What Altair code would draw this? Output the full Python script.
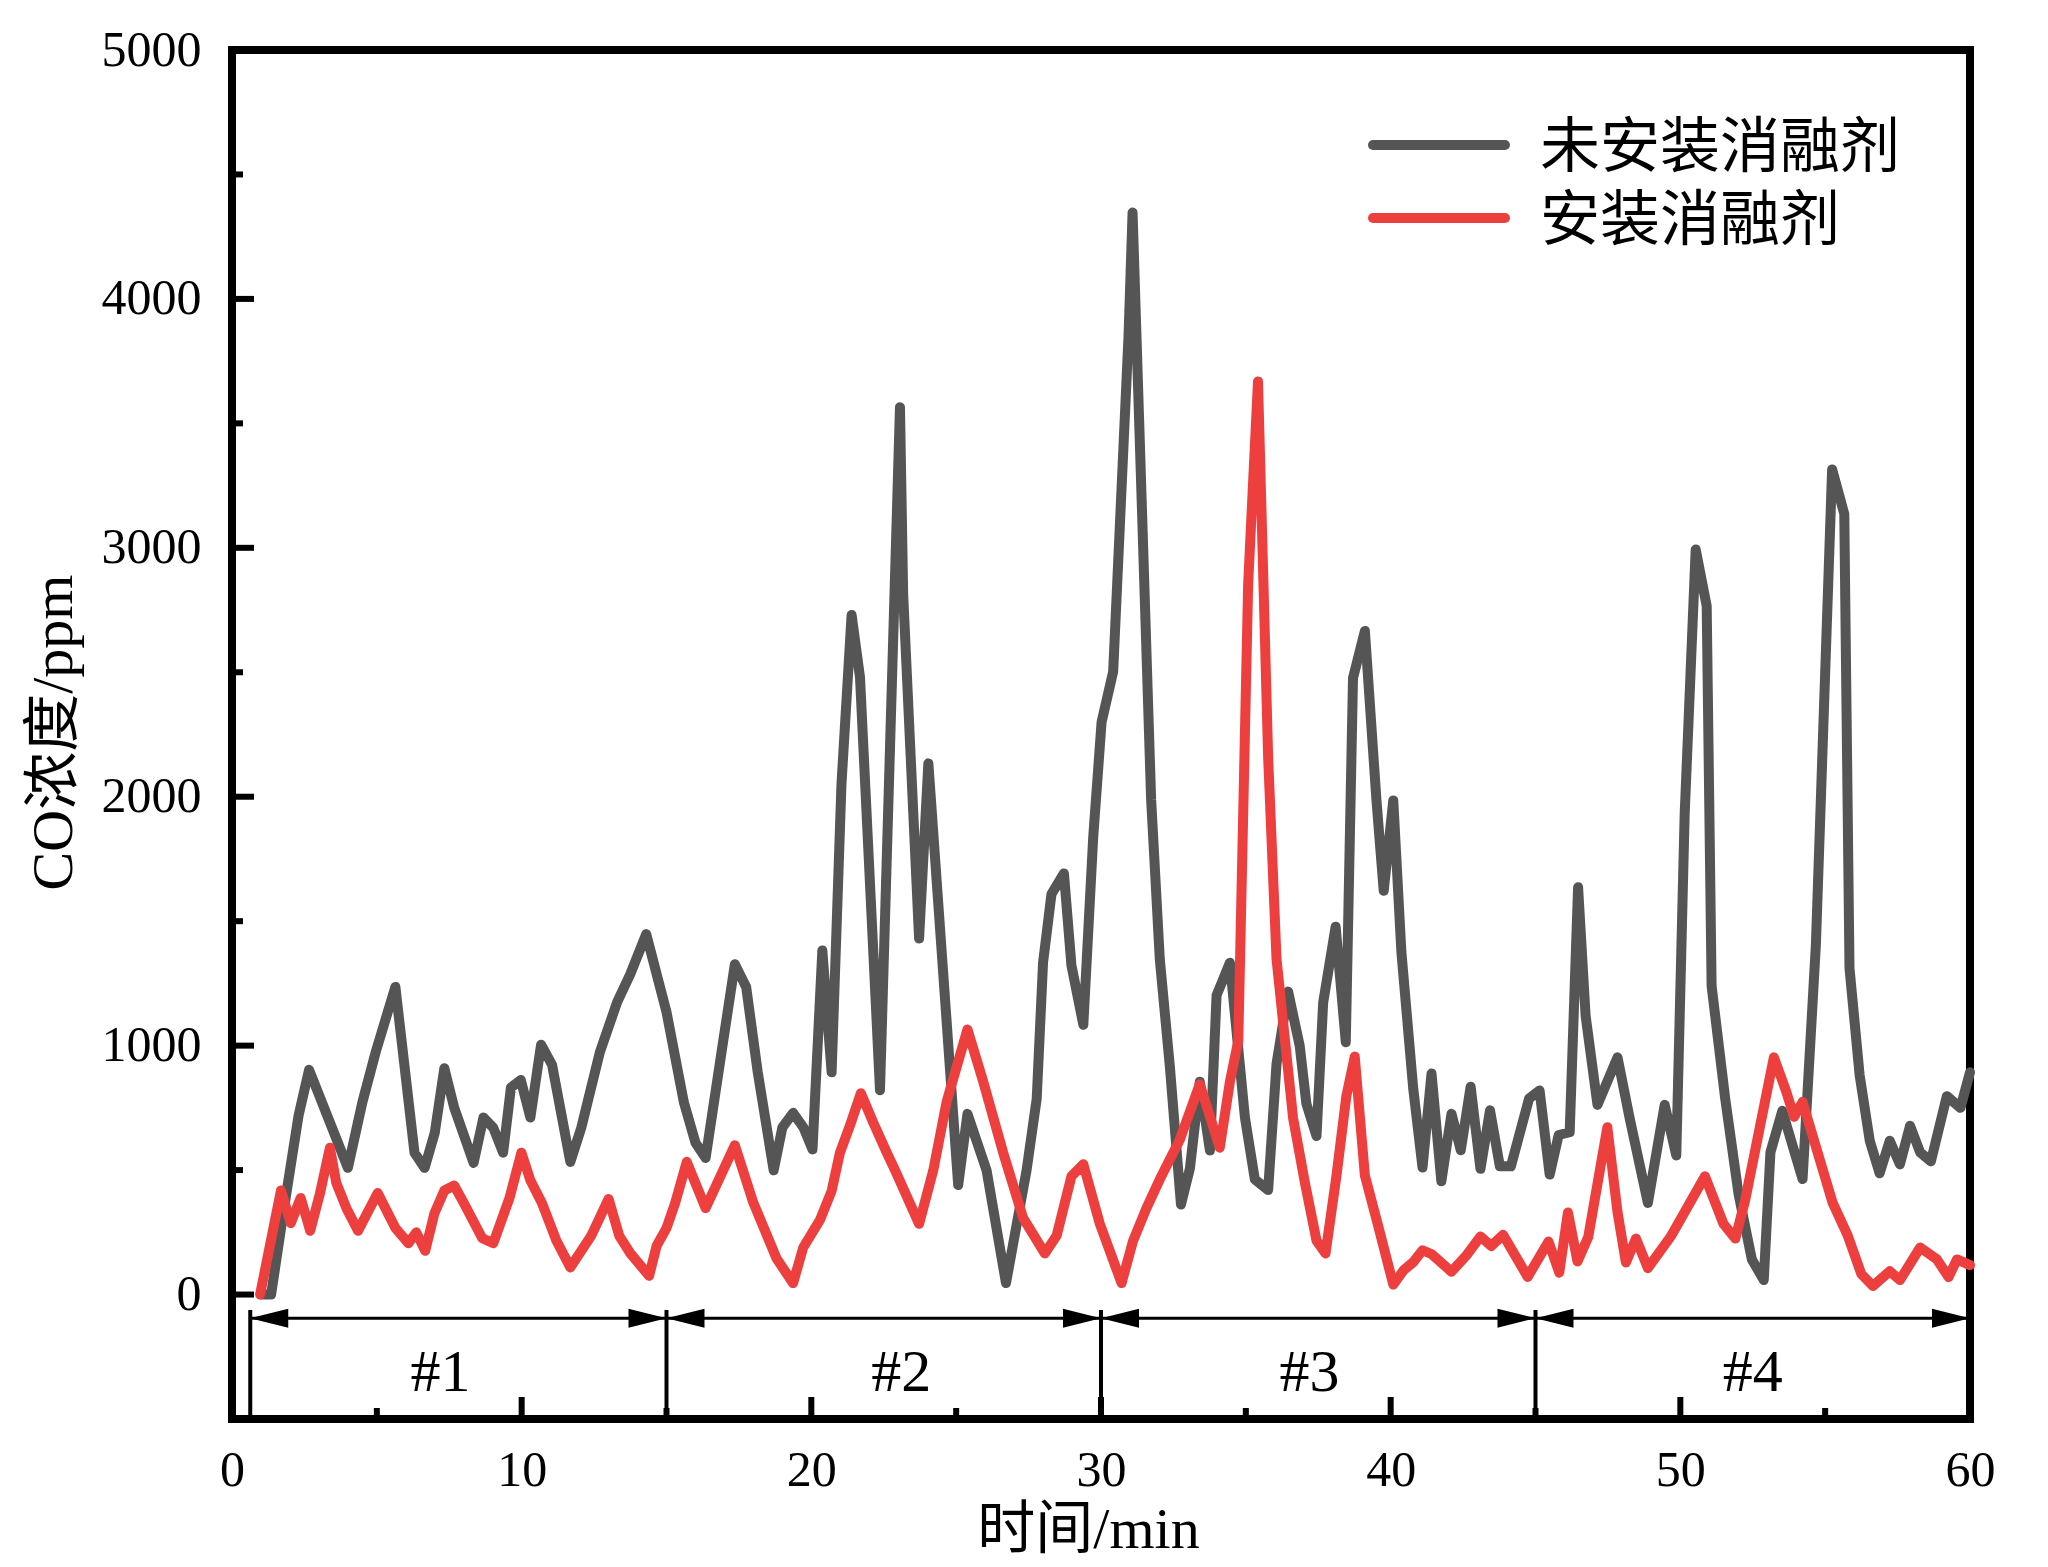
import altair as alt
import pandas as pd

SERIES = ["未安装消融剂", "安装消融剂"]
COLORS = ["#555555", "#EE3F3F"]

# 未安装消融剂 (grey)
gray_t = [1.0, 1.35, 1.8, 2.3, 2.66, 4.0, 4.5, 4.96, 5.64, 6.3, 6.65, 7.0, 7.33, 7.67,
          8.34, 8.68, 9.02, 9.36, 9.63, 9.97, 10.3, 10.67, 11.05, 11.68, 12.06, 12.7,
          13.3, 13.75, 14.3, 15.0, 15.6, 16.0, 16.35, 16.9, 17.36, 17.75, 18.15, 18.7,
          19.0, 19.37, 19.73, 20.04, 20.38, 20.7, 21.04, 21.39, 21.68, 22.37, 23.06,
          23.17, 23.72, 24.04, 25.07, 25.39, 26.05, 26.72, 27.43, 27.78, 28.0, 28.29,
          28.72, 28.98, 29.39, 29.73, 30.02, 30.42, 30.95, 31.09, 31.73, 32.03, 32.38,
          32.76, 33.07, 33.41, 33.76, 33.99, 34.45, 34.97, 35.31, 35.77, 36.06, 36.46,
          36.86, 37.09, 37.44, 37.67, 38.1, 38.45, 38.7, 39.11, 39.51, 39.76, 40.09,
          40.37, 40.78, 41.1, 41.41, 41.75, 42.1, 42.42, 42.76, 43.1, 43.43, 43.77,
          44.15, 44.78, 45.14, 45.49, 45.8, 46.18, 46.47, 46.73, 47.14, 47.83, 48.24,
          48.88, 49.46, 49.86, 50.15, 50.53, 50.91, 51.08, 51.55, 52.01, 52.47, 52.88,
          53.11, 53.52, 54.22, 54.68, 55.24, 55.66, 55.84, 56.19, 56.54, 56.88, 57.23,
          57.58, 57.93, 58.28, 58.65, 59.2, 59.67, 60.0]
gray_v = [0, 0, 350, 720, 903, 509, 772, 974, 1236, 570, 509, 650, 909, 751,
          529, 711, 670, 570, 832, 862, 711, 1004, 923, 533, 671, 974,
          1176, 1287, 1448, 1135, 772, 610, 549, 974, 1327, 1236, 893, 499,
          671, 730, 671, 583, 1382, 893, 2050, 2730, 2480, 821, 3565,
          2814, 1430, 2134, 440, 726, 499, 46, 499, 786, 1334, 1609,
          1692, 1322, 1084, 1835, 2300, 2503, 3850, 4347, 1990, 1347, 912,
          362, 507, 855, 579, 1202, 1333, 710, 463, 420, 927, 1217,
          999, 767, 637, 1173, 1478, 1014, 2477, 2666, 1985, 1622, 1985,
          1376, 826, 510, 888, 455, 726, 580, 835, 505, 740, 515,
          515, 788, 820, 482, 641, 652, 1636, 1120, 762, 953, 714,
          368, 762, 559, 1931, 2993, 2766, 1239, 786, 404, 141, 58,
          571, 738, 464, 1406, 3315, 3136, 1311, 881, 618, 487, 618,
          523, 678, 571, 535, 797, 750, 893]

# 安装消融剂 (red)
red_t = [0.97, 1.69, 2.03, 2.37, 2.7, 3.04, 3.38, 3.6, 3.95, 4.35, 5.03, 5.64, 6.09,
         6.36, 6.67, 6.99, 7.33, 7.67, 8.0, 8.64, 9.02, 9.58, 9.99, 10.3, 10.7, 11.2,
         11.68, 12.4, 13.0, 13.37, 13.75, 14.4, 14.66, 15.0, 15.3, 15.7, 16.35, 17.36,
         18.0, 18.8, 19.37, 19.72, 20.3, 20.7, 20.99, 21.33, 21.71, 22.14, 22.6, 22.94,
         23.72, 24.21, 24.67, 25.39, 25.93, 26.62, 27.31, 28.06, 28.47, 28.98, 29.39,
         29.96, 30.71, 31.11, 31.57, 32.03, 32.72, 33.41, 34.1, 34.45, 34.74, 35.08,
         35.42, 35.77, 36.06, 36.63, 37.04, 37.44, 37.75, 38.13, 38.47, 38.76, 39.11,
         39.57, 40.09, 40.45, 40.78, 41.1, 41.42, 42.1, 42.6, 43.1, 43.47, 43.88,
         44.73, 45.45, 45.82, 46.12, 46.45, 46.82, 47.48, 47.83, 48.12, 48.47, 48.88,
         49.69, 50.85, 51.49, 51.9, 52.24, 53.23, 53.64, 53.93, 54.22, 54.8, 55.26,
         55.78, 56.25, 56.65, 57.23, 57.58, 58.28, 58.86, 59.26, 59.55, 60.0]
red_v = [0, 418, 287, 388, 256, 408, 590, 449, 347, 256, 408, 267, 206,
         250, 176, 327, 418, 438, 368, 226, 206, 388, 570, 459, 368, 216,
         109, 236, 384, 236, 166, 75, 196, 267, 368, 533, 347, 600,
         368, 145, 46, 189, 300, 416, 571, 678, 809, 690, 571, 487,
         284, 499, 774, 1065, 857, 571, 308, 165, 237, 475, 523,
         284, 46, 217, 347, 463, 622, 845, 590, 855, 1020, 2854,
         3668, 2159, 1347, 710, 449, 217, 165, 478, 797, 956, 478,
         275, 40, 98, 130, 178, 162, 92, 155, 233, 195, 240,
         71, 213, 88, 330, 133, 231, 672, 332, 129, 225, 106,
         237, 475, 284, 225, 380, 953, 821, 714, 774, 547, 368,
         237, 82, 34, 94, 58, 189, 141, 70, 141, 118]

# axes
y_labels = [0, 1000, 2000, 3000, 4000, 5000]
y_minor = [500, 1500, 2500, 3500, 4500]
x_labels = [0, 10, 20, 30, 40, 50, 60]
x_major = [10, 20, 30, 40, 50]
x_minor = [5, 15, 25, 35, 45, 55]

# test stages
seg_bounds = [0.63, 15, 30, 45, 60]
seg_names = ["#1", "#2", "#3", "#4"]
seg_name_x = [7.2, 23.1, 37.2, 52.5]
arrow_level = -95
divider_top = -62
name_level = -314

W, H = 1738, 1369
SERIF = "Liberation Serif, Noto Sans CJK SC"

xs = alt.Scale(domain=[0, 60], nice=False, zero=False)
ys = alt.Scale(domain=[-500, 5000], nice=False, zero=False)

gray_df = pd.DataFrame({"t": gray_t, "v": gray_v})
red_df = pd.DataFrame({"t": red_t, "v": red_v})

X_AXIS = dict(values=x_labels, format="d", labelFontSize=50, labelFont=SERIF,
              labelColor="black", labelPadding=26, labelFlush=False, ticks=False,
              domain=False, grid=False, title="时间/min",
              titleFont=SERIF, titleFontSize=58, titleFontWeight="normal",
              titleColor="black", titleX=856, titleY=128,
              titleBaseline="alphabetic", titleAlign="center")
Y_AXIS = dict(values=y_labels, format="d", labelFontSize=50, labelFont=SERIF,
              labelColor="black", labelPadding=31, labelFlush=False, ticks=False,
              domain=False, grid=False, title="CO浓度/ppm",
              titleFont=SERIF, titleFontSize=58, titleFontWeight="normal",
              titleColor="black", titleX=-161, titleY=682, titleAngle=270,
              titleBaseline="alphabetic", titleAlign="center")


def X(field):
    return alt.X(field, scale=xs, axis=alt.Axis(**X_AXIS))


def Y(field):
    return alt.Y(field, scale=ys, axis=alt.Axis(**Y_AXIS))


line_gray = alt.Chart(gray_df).mark_line(
    color=COLORS[0], strokeWidth=10, strokeJoin="round", strokeCap="round"
).encode(x=X("t:Q"), y=Y("v:Q"))

line_red = alt.Chart(red_df).mark_line(
    color=COLORS[1], strokeWidth=10, strokeJoin="round", strokeCap="round"
).encode(x=X("t:Q"), y=Y("v:Q"))

# inward ticks
ymaj = alt.Chart(pd.DataFrame({"v": y_labels})).mark_rule(color="black", strokeWidth=6).encode(
    y=Y("v:Q"), x=alt.value(0), x2=alt.value(22))
ymin = alt.Chart(pd.DataFrame({"v": y_minor})).mark_rule(color="black", strokeWidth=6).encode(
    y=Y("v:Q"), x=alt.value(0), x2=alt.value(11))
xmaj = alt.Chart(pd.DataFrame({"t": x_major})).mark_rule(color="black", strokeWidth=6).encode(
    x=X("t:Q"), y=alt.value(H), y2=alt.value(H - 22))
xmin = alt.Chart(pd.DataFrame({"t": x_minor})).mark_rule(color="black", strokeWidth=6).encode(
    x=X("t:Q"), y=alt.value(H), y2=alt.value(H - 11))

# stage annotation
div_df = pd.DataFrame({"t": seg_bounds[:-1], "top": divider_top, "bottom": -500})
dividers = alt.Chart(div_df).mark_rule(color="black", strokeWidth=4).encode(
    x=X("t:Q"), y=Y("top:Q"), y2="bottom:Q")

seg_df = pd.DataFrame({"a": seg_bounds[:-1], "b": seg_bounds[1:], "lvl": arrow_level,
                       "name": seg_names, "nx": seg_name_x, "nl": name_level})
shafts = alt.Chart(seg_df).mark_rule(color="black", strokeWidth=3).encode(
    x=X("a:Q"), x2="b:Q", y=Y("lvl:Q"))
head_l = alt.Chart(seg_df).mark_point(
    shape="M0,0L2,-0.5L2,0.5Z", size=1444, filled=True, color="black", opacity=1, strokeWidth=0
).encode(x=X("a:Q"), y=Y("lvl:Q"))
head_r = alt.Chart(seg_df).mark_point(
    shape="M0,0L-2,-0.5L-2,0.5Z", size=1444, filled=True, color="black", opacity=1, strokeWidth=0
).encode(x=X("b:Q"), y=Y("lvl:Q"))
names = alt.Chart(seg_df).mark_text(
    font="Liberation Serif", fontSize=60, color="black", baseline="middle", align="center"
).encode(x=X("nx:Q"), y=Y("nl:Q"), text="name:N")

# legend
leg_layers = []
for i, (name, col) in enumerate(zip(SERIES, COLORS)):
    d = pd.DataFrame({"s": [name]})
    leg_layers.append(alt.Chart(d).mark_rule(color=col, strokeWidth=10, strokeCap="round").encode(
        x=alt.value(1141), x2=alt.value(1273), y=alt.value(95 + 73 * i)))
    leg_layers.append(alt.Chart(d).mark_text(
        font="Noto Sans CJK SC", fontSize=60, color="black", align="left", baseline="alphabetic"
    ).encode(x=alt.value(1308), y=alt.value(117 + 73 * i), text="s:N"))

chart = alt.layer(
    line_gray, line_red, ymaj, ymin, xmaj, xmin, dividers, shafts, head_l, head_r, names,
    *leg_layers
).properties(
    width=W, height=H,
    autosize=alt.AutoSizeParams(type="none"),
    padding={"left": 224, "top": 42, "right": 70, "bottom": 140},
    background="white",
).configure_view(stroke="black", strokeWidth=8)

chart.save("out.html", embed_options={"renderer": "svg", "actions": False})
